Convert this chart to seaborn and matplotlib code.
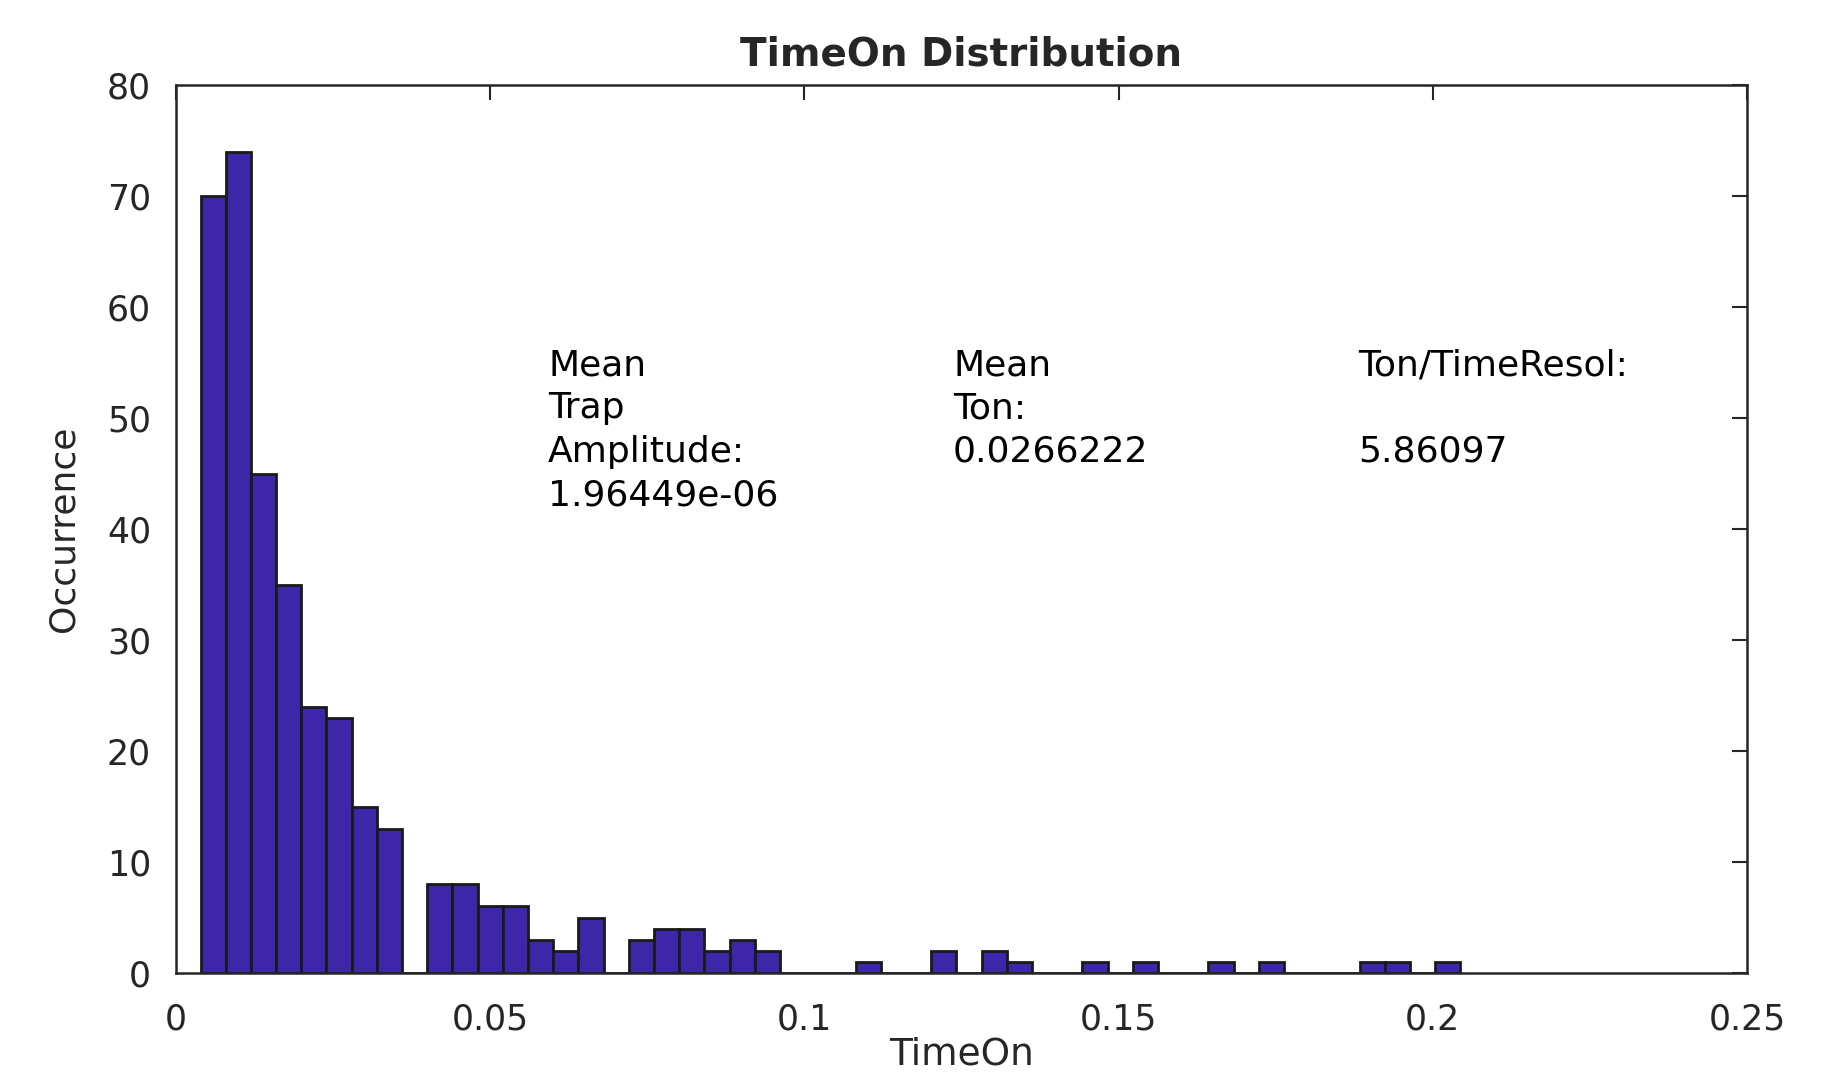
import numpy as np
import pandas as pd
import seaborn as sns
import matplotlib.pyplot as plt
from matplotlib.ticker import FormatStrFormatter, MultipleLocator

# histogram: 50 equal bins between the min and max TimeOn
bin_lo = 0.0039
bin_hi = 0.2044
counts = [70, 74, 45, 35, 24, 23, 15, 13, 0, 8,
          8, 6, 6, 3, 2, 5, 0, 3, 4, 4,
          2, 3, 2, 0, 0, 0, 1, 0, 0, 2,
          0, 2, 1, 0, 0, 1, 0, 1, 0, 0,
          1, 0, 1, 0, 0, 0, 1, 1, 0, 1]

mean_trap_amp = 1.96449e-06
mean_ton = 0.0266222
ton_over_res = 5.86097

col1 = ["Mean", "Trap", "Amplitude:", "%g" % mean_trap_amp]
col2 = ["Mean", "Ton:", "%g" % mean_ton]
col3 = ["Ton/TimeResol:", "", "%g" % ton_over_res]

edges = np.linspace(bin_lo, bin_hi, len(counts) + 1)
df = pd.DataFrame({"TimeOn": (edges[:-1] + edges[1:]) / 2, "n": counts})

sns.set_style("white")
plt.rcParams["font.family"] = ["DejaVu Sans"]

fig = plt.figure(figsize=(18.4, 10.81), dpi=100)
ax = fig.add_axes([0.09565, 0.0999, 0.8538, 0.82146])

sns.histplot(data=df, x="TimeOn", weights="n", bins=len(counts),
             binrange=(bin_lo, bin_hi), ax=ax,
             color="#3E26A8", edgecolor="#1a1a1a", linewidth=2, alpha=1)

ax.set_xlim(0, 0.25)
ax.set_ylim(0, 80)
ax.xaxis.set_major_locator(MultipleLocator(0.05))
ax.yaxis.set_major_locator(MultipleLocator(10))
ax.xaxis.set_major_formatter(FormatStrFormatter("%g"))
ax.tick_params(direction="in", top=True, right=True, length=11, width=1.5,
               labelsize=25, labelcolor="#262626", color="#262626")
ax.tick_params(axis="x", pad=21)
ax.tick_params(axis="y", pad=18)
for s in ax.spines.values():
    s.set_linewidth(1.8)
    s.set_color("#262626")

ax.set_title("TimeOn Distribution", fontsize=28, fontweight="bold", pad=14)
ax.set_xlabel("TimeOn", fontsize=27, color="#262626")
ax.set_ylabel("Occurrence", fontsize=26, color="#262626")
ax.xaxis.set_label_coords(0.5, -0.071)
ax.yaxis.set_label_coords(-0.061, 0.5)

y0, step = 0.6734, 0.0488
for x0, lines in zip([0.2368, 0.4946, 0.7524], [col1, col2, col3]):
    for k, line in enumerate(lines):
        ax.text(x0, y0 - k * step, line, transform=ax.transAxes,
                fontsize=26, ha="left", va="baseline", color="black")

fig.savefig("out.png", dpi=100)
